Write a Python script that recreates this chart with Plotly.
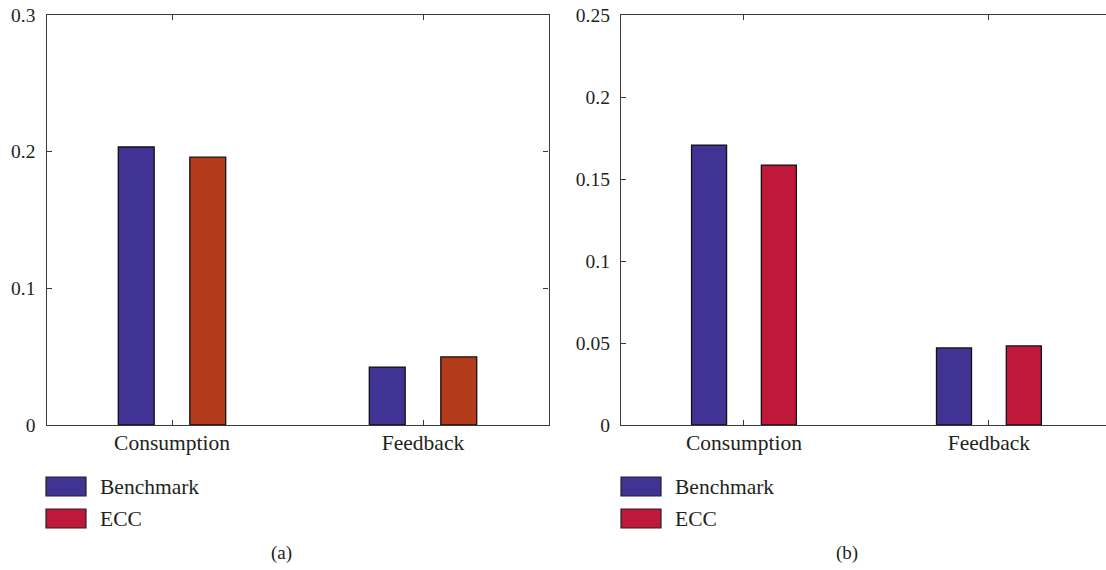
import plotly.graph_objects as go

# ---- data ----
categories = ["Consumption", "Feedback"]
series_names = ["Benchmark", "ECC"]
a_benchmark = [0.2034, 0.0424]
a_ecc = [0.1960, 0.0498]
b_benchmark = [0.1707, 0.0470]
b_ecc = [0.1585, 0.0482]
a_yticks = [0, 0.1, 0.2, 0.3]
b_yticks = [0, 0.05, 0.1, 0.15, 0.2, 0.25]
panel_labels = ["(a)", "(b)"]

# ---- style ----
W, H = 1106, 570
FONT = "Liberation Serif"
TXT = "#231f20"
AX = "#3a3a3a"
C_BENCH = "#413393"
C_ECC_A = "#b33a1a"
C_ECC_B = "#c0183a"
C_ECC_LEG = "#c0183a"

def px_x(x):
    return x / W

def px_y(y):
    return 1 - y / H

fig = go.Figure()

bar_w = 0.143
offs = [-0.214, 0.071]

for vals, name, col, off in [(a_benchmark, series_names[0], C_BENCH, offs[0]),
                             (a_ecc, series_names[1], C_ECC_A, offs[1])]:
    fig.add_trace(go.Bar(x=categories, y=vals, name=name, width=bar_w, offset=off,
                         marker=dict(color=col, line=dict(color="#111", width=1.3)),
                         xaxis="x", yaxis="y", showlegend=False))
for vals, name, col, off in [(b_benchmark, series_names[0], C_BENCH, offs[0]),
                             (b_ecc, series_names[1], C_ECC_B, offs[1])]:
    fig.add_trace(go.Bar(x=categories, y=vals, name=name, width=bar_w, offset=off,
                         marker=dict(color=col, line=dict(color="#111", width=1.3)),
                         xaxis="x2", yaxis="y2", showlegend=False))

ydom = [px_y(425), px_y(15)]
common_x = dict(type="category", ticks="inside", ticklen=5, tickcolor=AX,
                showline=True, linecolor=AX, linewidth=1.3, mirror="ticks",
                showgrid=False, zeroline=False, automargin=False,
                tickfont=dict(family=FONT, size=21.5, color=TXT), ticklabelstandoff=-2)
common_y = dict(ticks="inside", ticklen=5, tickcolor=AX,
                showline=True, linecolor=AX, linewidth=1.3,
                showgrid=False, zeroline=False, automargin=False,
                tickfont=dict(family=FONT, size=19.5, color=TXT), ticklabelstandoff=6)

fig.update_layout(
    width=W, height=H,
    margin=dict(l=0, r=0, t=0, b=0, pad=0),
    paper_bgcolor="white", plot_bgcolor="white",
    barmode="overlay",
    showlegend=False,
    xaxis=dict(domain=[px_x(46.5), px_x(548.5)], range=[-0.5, 1.5], anchor="y", **common_x),
    yaxis=dict(domain=ydom, range=[0, 0.3], tickvals=a_yticks, mirror="ticks",
               anchor="x", **common_y),
    xaxis2=dict(domain=[px_x(621), 1.0], range=[-0.502, 1.478], anchor="y2", **common_x),
    yaxis2=dict(domain=ydom, range=[0, 0.25], tickvals=b_yticks, mirror=False,
                anchor="x2", **common_y),
)

# legends (drawn as shapes + text) and panel labels
shapes = []
annos = []
for x0 in [46, 621]:
    for i, (name, col) in enumerate(zip(series_names, [C_BENCH, C_ECC_LEG])):
        y0 = 477 + i * 32
        shapes.append(dict(type="rect", xref="paper", yref="paper",
                           x0=px_x(x0), x1=px_x(x0 + 40), y0=px_y(y0), y1=px_y(y0 + 19),
                           fillcolor=col, line=dict(color="#222", width=1.2)))
        annos.append(dict(xref="paper", yref="paper", x=px_x(x0 + 52), y=px_y(y0 + 10),
                          text=name, showarrow=False, xanchor="left", yanchor="middle",
                          font=dict(family=FONT, size=21.5, color=TXT)))
for (lx, txt) in zip([281, 847], panel_labels):
    annos.append(dict(xref="paper", yref="paper", x=px_x(lx), y=px_y(553),
                      text=txt, showarrow=False, xanchor="center", yanchor="middle",
                      font=dict(family=FONT, size=19, color=TXT)))

fig.update_layout(shapes=shapes, annotations=annos)

fig.write_html("out.html", config={"displayModeBar": False},
               post_script="document.body.style.margin='0';document.body.style.overflow='hidden';")
